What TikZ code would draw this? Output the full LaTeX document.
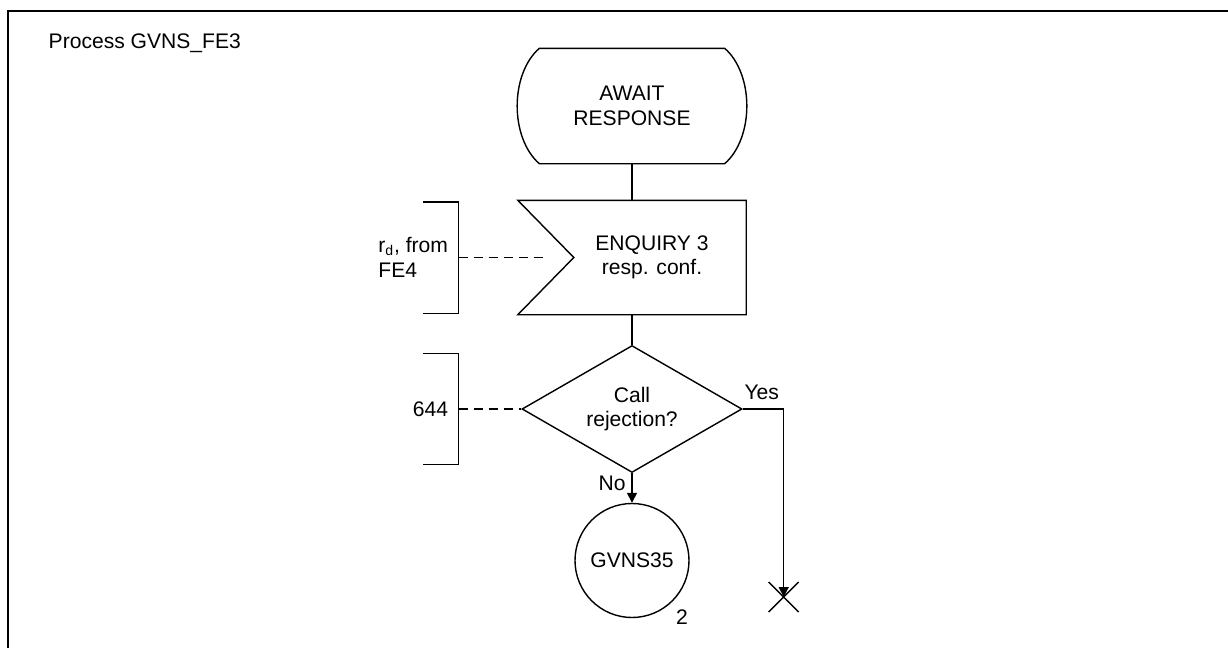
\documentclass[tikz,border=0pt]{standalone}
\usepackage{fontspec}
\setmainfont{Liberation Sans}
\usetikzlibrary{shapes.geometric, arrows.meta, calc}
\tikzstyle{statebox} = [rectangle, minimum width=4.56cm, minimum height=2.28cm, align=center, inner sep=0pt]
\tikzstyle{inputbox} = [rectangle, minimum width=4.54cm, minimum height=2.26cm, inner sep=0pt]
\tikzstyle{decision} = [diamond, aspect=1.73, minimum width=4.4cm, minimum height=2.54cm, inner sep=0pt, align=center, draw=black]
\tikzstyle{pagecon} = [circle, minimum size=2.28cm, inner sep=0pt, draw=black]
\tikzstyle{bracket} = [rectangle, minimum width=0.68cm, minimum height=2.2cm, inner sep=0pt]
\tikzstyle{cmttext} = [anchor=east, align=left, inner sep=0pt]
\tikzstyle{arrow} = [->, >={Triangle[length=2mm, width=2mm]}]
\tikzstyle{dashline} = [line width=1pt, dash pattern=on 0.18cm off 0.12cm]

\begin{document}
\begin{tikzpicture}[node distance=3.03cm, line width=0.8pt, font=\fontsize{12}{14}\selectfont]
\useasboundingbox (0,0) rectangle (24.56,-12.96);
\draw[line width=1.2pt] (0.16,-12.96) -- (0.16,-0.22) -- (24.56,-0.22);
\node (title) [anchor=west, inner sep=0pt] at (0.96,-0.87) {Process GVNS\_FE3};

\node (await) [statebox] at (12.64,-2.12) {AWAIT\\RESPONSE};
\draw ($(await.north west)+(0.44,0)$) -- ($(await.north east)+(-0.44,0)$)
  .. controls +(0.59,-0.52) and +(0.59,0.52) .. ($(await.south east)+(-0.44,0)$)
  -- ($(await.south west)+(0.44,0)$)
  .. controls +(-0.59,0.52) and +(-0.59,-0.52) .. ($(await.north west)+(0.44,0)$) -- cycle;

\node (input) [inputbox, below of=await] {};
\draw (input.north west) -- (input.north east) -- (input.south east) -- (input.south west) -- ($(input.west)+(1.12,0)$) -- cycle;
\node (inputtxt) [align=center] at ($(input)+(0.4,0)$) {ENQUIRY 3\\resp. conf.};

\node (decide) [decision, below of=input] {Call\\rejection?};
\node (gvns) [pagecon, below of=decide] {GVNS35};
\node (pagenum) at ($(gvns.south)+(1.0,0.02)$) {2};

\draw (await) -- (input);
\draw (input) -- (decide);
\draw [arrow] (decide) -- (gvns);
\node (nolbl) at ($(decide.south)+(-0.4,-0.2)$) {No};

% yes branch ends in a stop
\coordinate (yesbend) at ($(decide.east)+(0.82,0)$);
\coordinate (stop) at ($(yesbend)+(0,-3.76)$);
\draw [arrow] (decide.east) -- (yesbend) -- (stop);
\draw (stop) +(-0.3,0.3) -- +(0.3,-0.3) (stop) +(-0.3,-0.3) -- +(0.3,0.3);
\node (yeslbl) at ($(decide.east)+(0.38,0.34)$) {Yes};

% comments
\node (br1) [bracket] at ($(input)+(-3.82,0)$) {};
\draw (br1.north west) -- (br1.north east) -- (br1.south east) -- (br1.south west);
\node (src) [cmttext] at ($(br1.east)+(-0.2,0)$) {r\textsubscript{d}, from\\FE4};
\draw [dashline] (br1.east) -- ($(input.west)+(0.58,0)$);

\node (br2) [bracket] at ($(decide)+(-3.82,0)$) {};
\draw (br2.north west) -- (br2.north east) -- (br2.south east) -- (br2.south west);
\node (ref) [cmttext] at ($(br2.east)+(-0.2,0)$) {644};
\draw [dashline] (br2.east) -- (decide.west);
\end{tikzpicture}
\end{document}
